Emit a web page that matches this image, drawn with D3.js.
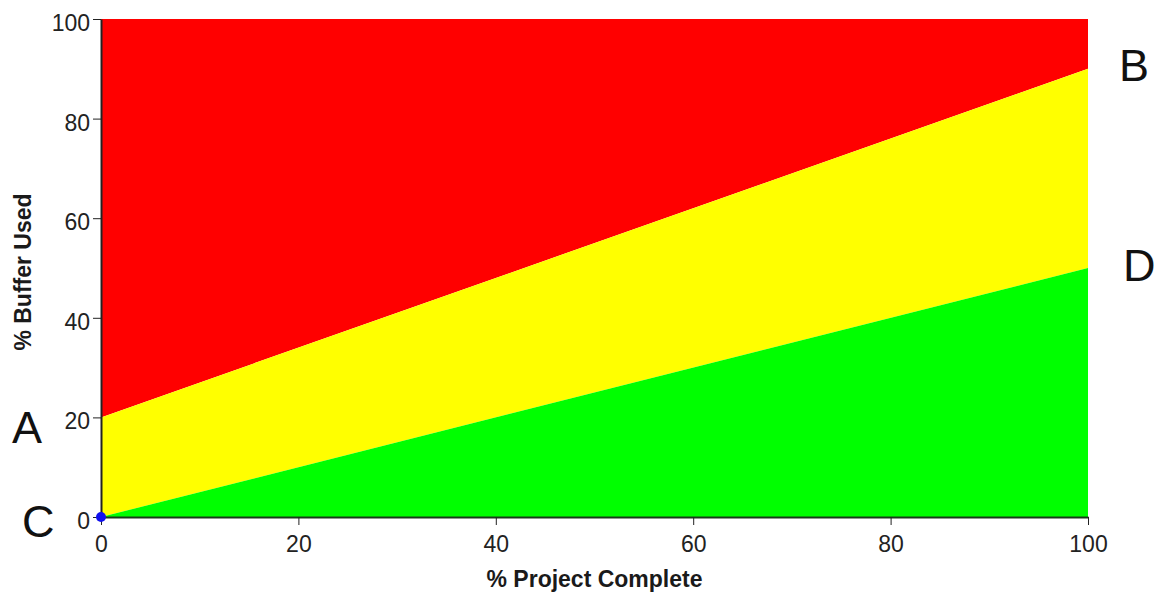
<!DOCTYPE html>
<html>
<head>
<meta charset="utf-8">
<script src="https://cdn.jsdelivr.net/npm/d3@7"></script>
<style>
  body { margin: 0; background: #fff; }
  .tick text { font-family: "Liberation Sans", Arial, sans-serif; font-size: 23px; fill: #222; }
  .axis-title { font-family: "Liberation Sans", Arial, sans-serif; font-size: 23px; font-weight: bold; fill: #1a1a1a; }
  .corner-label { font-family: "Liberation Sans", Arial, sans-serif; font-size: 45px; fill: #111; }
</style>
</head>
<body>
<div id="wrapper"></div>
<script>
// data
const completePct = [0, 100]
const yellowLow = [0, 50]     // green / yellow boundary
const redLow = [20, 90]       // yellow / red boundary
const xTicks = [0, 20, 40, 60, 80, 100]
const yTicks = [0, 20, 40, 60, 80, 100]
const markerPoint = [0, 0]
const cornerLabels = ["A", "B", "C", "D"]

function drawChart() {
  let dimensions = {
    width: 1170,
    height: 594,
    margin: { top: 19, right: 82, bottom: 77, left: 101 },
  }
  dimensions.boundedWidth = dimensions.width - dimensions.margin.left - dimensions.margin.right
  dimensions.boundedHeight = dimensions.height - dimensions.margin.top - dimensions.margin.bottom

  const wrapper = d3.select("#wrapper")
    .append("svg")
      .attr("width", dimensions.width)
      .attr("height", dimensions.height)

  const bounds = wrapper.append("g")
      .attr("transform", `translate(${dimensions.margin.left},${dimensions.margin.top})`)

  const xScale = d3.scaleLinear()
    .domain([0, 100])
    .range([0, dimensions.boundedWidth])

  const yScale = d3.scaleLinear()
    .domain([0, 100])
    .range([dimensions.boundedHeight, 0])

  const rows = completePct.map((x, i) => ({ x, green: yellowLow[i], yellow: redLow[i] }))

  // zones
  const area = (lo, hi) => d3.area()
    .x(d => xScale(d.x))
    .y0(d => yScale(lo(d)))
    .y1(d => yScale(hi(d)))

  bounds.append("path")
      .attr("fill", "#ff0000")
      .attr("d", area(d => d.yellow, () => 100)(rows))
  bounds.append("path")
      .attr("fill", "#ffff00")
      .attr("d", area(d => d.green, d => d.yellow)(rows))
  bounds.append("path")
      .attr("fill", "#00ff00")
      .attr("d", area(() => 0, d => d.green)(rows))

  // axes
  const xAxis = bounds.append("g")
      .attr("transform", `translate(0,${dimensions.boundedHeight})`)
    .call(d3.axisBottom(xScale).tickValues(xTicks).tickSize(8).tickPadding(11).tickSizeOuter(0))
  xAxis.select(".domain").attr("stroke", "#1a3a1a").attr("stroke-width", 2)
  xAxis.selectAll(".tick line").attr("stroke", "#222")

  const yAxis = bounds.append("g")
    .call(d3.axisLeft(yScale).tickValues(yTicks).tickSize(8).tickPadding(3).tickSizeOuter(0))
  yAxis.select(".domain").attr("stroke", "#222").attr("stroke-width", 2)
  yAxis.selectAll(".tick line").attr("stroke", "#222")
  yAxis.selectAll(".tick text").attr("dy", "0.5em")

  wrapper.append("text")
      .attr("class", "axis-title")
      .attr("x", dimensions.margin.left + dimensions.boundedWidth / 2)
      .attr("y", 587)
      .attr("text-anchor", "middle")
      .text("% Project Complete")

  wrapper.append("text")
      .attr("class", "axis-title")
      .attr("transform", `translate(31,272) rotate(-90)`)
      .attr("text-anchor", "middle")
      .text("% Buffer Used")

  // marker at origin
  bounds.append("circle")
      .attr("cx", xScale(markerPoint[0]))
      .attr("cy", yScale(markerPoint[1]))
      .attr("r", 5)
      .attr("fill", "#1010ee")

  // corner letters, placed next to the boundary ends
  const top = dimensions.margin.top
  const labelPos = [
    { t: cornerLabels[0], x: 12, y: yScale(redLow[0]) + top + 9 },
    { t: cornerLabels[1], x: 1119, y: yScale(redLow[1]) + top - 4 },
    { t: cornerLabels[2], x: 22, y: yScale(yellowLow[0]) + top + 4 },
    { t: cornerLabels[3], x: 1123, y: yScale(yellowLow[1]) + top - 3 },
  ]
  wrapper.selectAll(".corner-label")
    .data(labelPos)
    .join("text")
      .attr("class", "corner-label")
      .attr("x", d => d.x)
      .attr("y", d => d.y)
      .attr("dy", "0.358em")
      .text(d => d.t)
}
drawChart()
</script>
</body>
</html>
